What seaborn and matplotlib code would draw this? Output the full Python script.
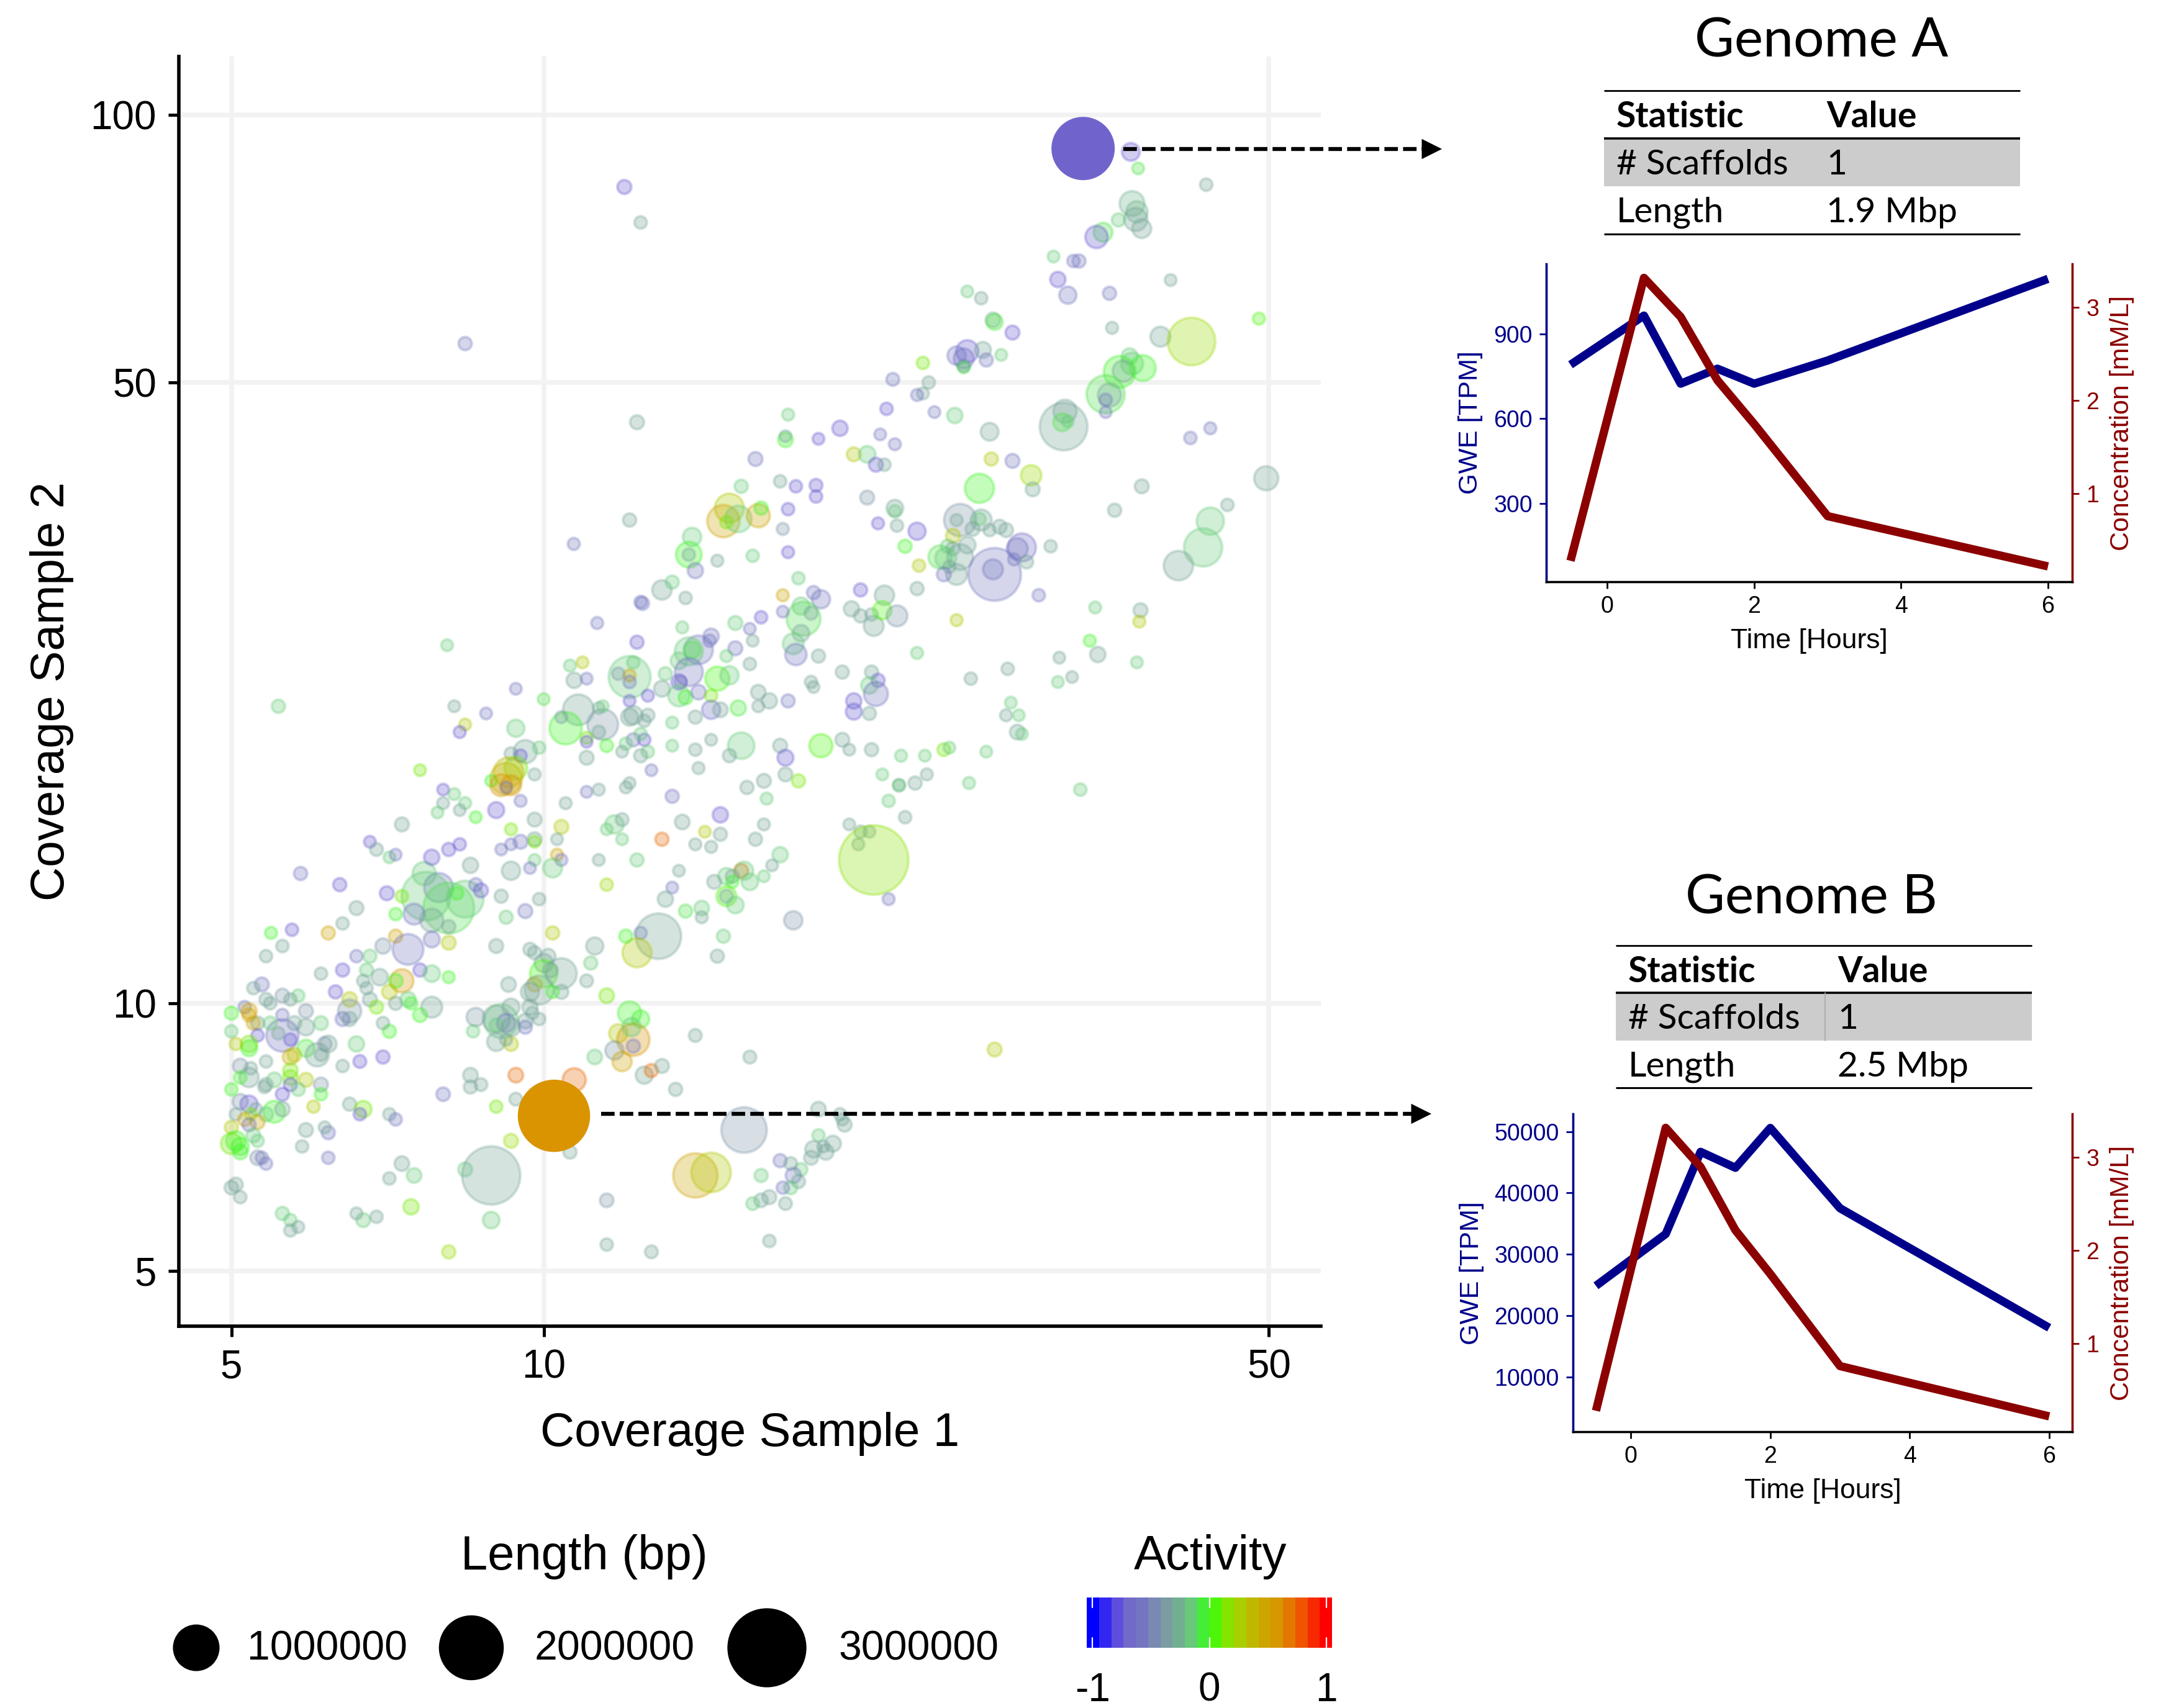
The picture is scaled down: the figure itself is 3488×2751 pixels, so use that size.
import matplotlib
matplotlib.use('Agg')
import matplotlib.pyplot as plt
import numpy as np
import pandas as pd
import seaborn as sns
from matplotlib.colors import LinearSegmentedColormap
from matplotlib.patches import Rectangle

# activity levels
P, S, G, T, M, B, L, Y, U, O = -0.75, -0.55, -0.42, -0.3, -0.15, -0.03, 0.12, 0.3, 0.48, 0.72

cov1 = [
    5.83,6.36,7.06,7.67,7.92,7.7,8.1,8.4,8.25,7.3,
    8.6,8.7,9.1,6.6,7.2,7.5,7.8,8.1,9.2,9.6,
    9.9,5.46,5.72,6.2,6.4,7.2,7.4,7.8,7,8.1,
    9,5.6,5.4,6.6,6.8,10.2,11.5,12.4,12.9,12.3,
    12,11.2,11.1,14.9,14.7,17.4,6.1,6.4,6.75,6.7,
    6.75,6.95,7.3,7.2,7.6,7.8,8.1,5.35,5.25,5.6,
    5.8,5.7,5.4,5.45,6.3,6.5,7.1,6.8,7.2,6.9,
    6.5,6.5,6.4,7.4,7.45,7.8,7.6,5.15,5.2,5.2,
    5,5.9,5.6,5.75,5.9,5.6,6.1,5.55,5.45,5.3,
    5.25,5,5.3,5.7,5.2,5.2,5.05,5.9,6.05,6.2,
    6.15,6.1,6.6,5.7,5.75,6.4,6.65,7,7.1,7,
    5.1,5.2,5.22,5.4,5.1,5.5,5.7,5.7,5.9,6.1,
    5.7,5.8,5.6,5.4,5.38,5,6.1,6,6.5,6.7,
    6.65,7.1,7.2,5.1,5.2,5.5,5.6,5.4,5.05,5.28,
    5.22,5.15,5.3,5,5.2,5.25,5.3,5,5.1,5.05,
    5.1,5.3,5.35,5.4,5.9,6.2,6.15,5.85,6.2,7.3,
    7.5,7.1,8.4,8.9,8.9,7.45,6.7,6.9,6.6,5.6,
    5.7,5.8,5.7,8.1,5.05,5,5.1,11.5,11.5,12.7,
    16.5,9.8,9.7,10.1,10,10,10.4,10.15,9.8,9.9,
    9.7,10.4,10.2,9.25,11,8.6,8.55,9.1,9,9.3,
    9.2,9,9.3,9.7,9.6,9.75,9.9,9.6,9,9.3,
    9.2,11.5,12.1,12.4,11.8,12.2,12.15,11.7,12.2,11.2,
    11.9,12.5,12.7,13,13.4,14,15.8,9.4,10.7,8.5,
    8.7,8.5,8,9.4,9,9.3,10.6,15.6,14,14.5,
    18.4,19.3,19.4,19.5,18.4,18.2,19,18.6,18.7,18.1,
    17.7,16.9,17.3,17.4,17.6,17.3,17,16.2,16.5,16.2,
    15.9,17.1,
    19.9,20.5,16,20.9,21.3,27,28.3,29.5,29.6,26.3,
    42,37.7,49.7,15.5,16.9,17.5,18.3,18.3,17.2,20.5,
    21.8,21.8,15.1,14.9,15.4,16.1,16.2,15,12.1,17,
    21,21.9,22.9,25.2,26.4,26.3,25,25.9,26.9,27.5,
    27.9,24.8,25.6,13.9,13.8,13.8,14,15.9,14.7,17.2,
    22.3,24.1,24.5,24.8,25.2,24.4,23,24.6,25,24.3,
    28.9,28.6,28.4,27.2,27.1,29.2,30.8,30,35.5,45.6,
    43.9,43.2,40.9,17.6,17,13,13.3,12.4,12.45,13.7,
    20.2,21.3,22.9,18.2,18.5,17.7,17.8,18.1,19.8,20.2,
    20.7,20.8,21.2,21.9,25,34,37.6,37.5,17,16.2,
    15.3,13.6,17.7,17.4,17.5,18.4,15.8,15.9,15.3,15,
    12.3,14.5,14.1,14.45,13.9,13.8,13.5,13.8,13.5,13.55,
    12.1,12.2,12.1,12.1,13.1,14.7,15.1,15.8,13,13.5,
    13.7,14.1,14.5,14.5,14.8,15.4,16.1,16.5,16.1,17.2,
    12.6,12.1,20.7,19.4,18.1,18.2,21,22.9,33.6,31.4,
    34.2,37.3,28,25.8,31.3,32.3,20.6,20.9,19.9,19.9,
    20.6,28.2,27.9,28.7,28.6,28.9,12.2,12.1,12.6,12.5,
    13.3,14,12.5,12.2,12.4,12,12.6,12.4,13.3,14,
    14.5,15.5,15.1,16.9,17.1,18.5,19.4,19.7,20.7,22.1,
    23.3,24.3,24.6,26.7,12.7,14.1,17.1,17.6,16.3,15.7,
    12.1,12,16.4,13.3,21.2,23.4,22.8,22,22,25.7,
    32.9,21.5,14.8,13.6,16.3,22.3,19.7,20.2,20.6,20.1,
    20.8,21.5,14.3,13,14.8,14,14.5,16,16.9,12.3,
    16.6,16.3,15.5,15.6,15,15.2,15.8,14.6,13.5,13.3,
    13.1,15.2,15,15,15.3,13.7,14.2,14.2,27.2,
    36.8,37.4,43.5,36.9,37.3,37.2,37.7,35.8,34.6,34.1,
    31,32.4,32.8,31.3,32,35.1,40.2,25.6,26.4,27.1,
    27.2,28.3,35.3,39.3,42.1,48.9,25.6,25,25.4,26.5,
    26.7,27.6,25.4,25.4,36.7,36.9,35.9,36.2,37.8,34.8,
    35.1,34.8,34.8,31.8,31.7,31.6,32,23.8,24.9,26.9,
    43.9,11.96,12.4,8.4,12.3,17.2,17.1,17.1,18.4,19.3,
    21.1,21.8,21.4,21.7,23.2,23.5,23.2,22.9,
    10.69,11.26,8.07,9.4,8.2,8.8,8.4,8.3,9.4,10,
    10.6,10.9,10.7,11,11.8,10.8,11.4,10.5,10.4,11.3,
    11.4,11.3,11,11,11.5,11,11.9,9.6,9.9,9.3,
    9.5,9.4,9.25,9.2,9.8,8.9,9.1,9.3,9.2,7.6,
    8,8.2,9.5,9,8,8.4,8.3,7.9,8.6,7.3,
    9.8,10.4,9.3,10.5,11,11.3,6.8,6.9,7.1,7.2,
    8.1,8.3,7.8,9.1,9.3,9.5,9.8,9.8,10.3,10.3,
    10.4,9.8,9.7,10.2,9.3,8.5,11.9,11.3,11.5,11.7,
    11.9,5.55,
]
cov2 = [
    14,13.6,13.3,14,13.5,13.2,12.8,13.1,13.3,13.2,
    13.6,13.4,13.2,12.8,12.6,12.6,12.4,12.2,12.5,12.7,
    13.1,12,12.1,12,12.3,11.9,11.5,11.8,11.6,11.7,
    11.6,11.6,11.3,11.3,11.3,12,13.6,12,11.9,11.4,
    11.9,11.6,11.1,11.9,11.3,12.4,10.8,10.9,10.9,10.6,
    10.4,10.7,10.6,10.6,10.9,10.8,10.7,10.5,10.4,10.2,
    10.2,10.1,10.1,10,10.3,10.1,10.3,10.1,10,9.9,
    9.8,9.6,9.6,10.1,10,9.9,9.7,9.9,9.8,9.7,
    9.75,9.8,9.7,9.5,9.4,9.2,9.5,9.25,9.5,9.5,
    9.5,9.3,9.2,9.1,9,8.9,9,8.9,8.75,9,
    9,8.75,9,8.7,8.75,8.5,8.6,8.7,9.3,9.5,
    8.5,8.25,8.45,8.6,8.25,8.2,8.4,8.25,8.2,8.1,
    8.1,8,7.9,8.1,8.05,8,7.9,7.65,7.7,7.6,
    7.5,7.5,7.4,7.75,7.7,7.55,7.6,7.5,7.5,7.6,
    7.5,7.4,7.35,7.25,7.3,7.1,7,6.95,6.9,7,
    6.8,6.7,6.7,6.6,7.2,7.15,7.25,6.9,6.7,6.6,
    6.4,6.35,6.5,6.4,5.7,5.9,5.7,5.75,5.8,5.8,
    5.7,5.6,5.55,5.25,6.25,6.2,6.05,6,5.35,5.25,
    5.4,11.4,11.5,11.3,11.1,10.8,10.8,10.9,10.5,10.35,
    10.3,10.3,10.3,10.5,10.6,9.65,9.3,9.55,9.6,9.9,
    9.5,9.45,9.4,9.9,9.55,9.75,9.6,9.4,9.05,9,
    9.1,10.2,9.75,9.6,9.25,9.1,9.4,8.85,8.95,8.7,
    8.6,8.3,8.4,8.5,8,9.2,8.7,8.3,8.2,8.3,
    8.1,8.05,7.9,7.8,7.65,7,6.8,7.2,6.4,6.45,
    7.6,7.5,7.4,7.3,7.1,6.85,6.95,6.9,6.8,6.7,
    6.5,6.65,6.6,6.4,6.3,6.2,6.2,6.4,6.05,6,
    5.95,5.95,
    41.5,41.5,41,40.4,40.4,41,40.8,39.3,37.9,38,
    43.3,38.2,39,38.2,38.7,38.2,38.3,37.2,36,37.1,
    36.1,35.8,36.1,34.9,35.1,35.4,36.1,34.8,35,34.2,
    34.7,34.5,34,35,35,35.1,35,34.2,34.1,34.4,
    34.1,33.6,32.8,33.5,32,32,30.7,31.9,31.5,32.2,
    32.7,31.8,32.7,32.5,31.8,31.7,31.1,31,30.4,30.4,
    32.6,32.5,31.6,30.4,30.8,31.4,32.7,28.8,35.9,36.4,
    34.9,32.6,31.1,30.1,28.8,29.2,29.8,28.3,28.2,28.6,
    29.2,28.8,29.3,29,28.5,28,27.1,27.5,27.8,27.3,
    27.4,26.6,27.7,27.3,27,27.9,27.7,26.9,27.6,27.2,
    26.8,26.5,26.1,25.4,24.7,24.6,26.4,25.6,25.1,24.6,
    25.5,25.9,25,25.6,25,24.9,24.3,23.6,23,23,
    23.3,24.2,23.4,23,23.5,23.2,23.4,24.1,22.6,22.2,
    22.1,22.4,22.2,21.4,21.4,21.5,22.4,21.9,21.6,21.9,
    22.2,21.9,23.6,23.6,23,22.7,23.1,24.8,25.6,24.5,
    24.7,24.2,23.8,23.2,23,23.3,22.8,22.3,21.9,21.3,
    21.2,21.8,21.1,21.1,20.2,20.1,21.1,21,21.1,20.8,
    20.7,21,19.8,19.8,20.1,19.6,19.2,19,19.5,19.3,
    19.8,19.5,19,19.5,18.9,19.5,19.8,19.3,19.3,19,
    19,19.3,19.4,19.2,18.3,18.4,18.1,17.8,17.8,17.5,
    17.7,17.5,17,17.1,18.1,18.1,17.7,17.6,17.6,17.7,
    17.4,16.9,16.3,16,15.9,16.2,15.9,15.6,15.6,15.1,
    14.5,13.1,15.6,15.3,15.5,15.1,15,15.3,14.7,14.5,
    14.3,13.9,14.1,14.1,13.9,13.9,13.7,13.7,14.1,13.5,
    13.1,13.7,13.2,13.2,12.9,12.7,12.8,12.5,8.87,
    90.9,87.1,83.5,79.5,77.8,76.3,74.5,76.2,73.8,72.9,
    69.3,68.5,68.5,65.3,62.7,63,65.2,63.3,62.2,58.8,
    58.5,56.9,57.6,56.3,55.6,59,54.2,53.6,53.2,54.4,
    53,53.7,52.2,52,53.5,52.5,51.4,51.5,51.9,48.5,
    48.4,47.8,46.3,46.4,44.6,45.1,45.2,46.3,45.9,44,
    44.4,83,75.7,55.3,45.1,46,43.1,43.5,43.2,44.4,
    43.7,42.6,46.7,50.4,52.6,50,48.6,48.4,
    32.9,26.8,25.3,22.6,21.6,21.2,20.6,20.2,20.4,22,
    24,24.2,23.1,23.2,23.5,21.4,20.6,20.4,21,21.5,
    21.6,20.2,19.9,19.7,19.5,18.9,19.2,19.2,19.4,19.1,
    19,18.4,18.2,17.9,18.1,17.8,17.6,17.6,17.5,18.3,
    17.4,17.2,16.9,16.5,16.8,16.8,16.5,16.4,16.2,15.9,
    16.1,15.8,15.7,16.8,17.3,17.4,15.2,14.9,14.6,14.7,
    14.9,15.1,14.6,14.9,15.1,15.2,15.3,15.2,15.3,14.7,
    14.5,14.5,14.2,14.2,14.1,14.3,15.3,14.5,15.7,15.9,
    16.1,21.6,
]
# genome length in Mbp
length_mb = [
    .02,.02,.03,.2,.35,1.1,1.2,.6,.01,.01,
    .02,.03,.02,.03,.01,.15,.2,.02,.02,.03,
    .01,.005,.01,.02,.01,.02,.4,.06,.05,.03,
    .03,.01,.01,.01,.02,.02,.01,.01,.95,.35,
    .02,.08,.02,.02,.02,.1,.01,.02,.02,.01,
    .01,.07,.2,.03,.02,.07,.005,.03,.01,.03,
    .01,.01,.02,.01,.02,.04,.04,.03,.02,.02,
    .2,.03,.03,.05,.01,.15,.03,.01,.05,.02,
    .02,.03,.01,.03,.07,.45,.03,.01,.02,.02,
    .02,.01,.01,.01,.07,.06,.01,.08,.2,.07,
    .03,.01,.05,.05,.03,.01,.015,.02,.02,.01,
    .04,.12,.01,.01,.01,.04,.04,.04,.03,.03,
    .02,.02,.02,.02,.01,.01,.01,.01,.02,.07,
    .01,.01,.01,.05,.08,.17,.04,.03,.01,.01,
    .005,.02,.03,.02,.02,.03,.01,.15,.08,.12,
    .04,.04,.01,.01,.03,.02,.005,.01,.01,.04,
    .04,.01,.03,1.6,.07,.05,.03,.01,.005,.02,
    .01,.005,.01,.02,.03,.025,.01,.025,.01,.015,
    .01,.02,.02,.04,.1,.3,.4,.04,.03,.35,
    .1,.03,.01,.04,.015,.1,.01,.5,.3,.08,
    .1,.02,.1,.05,.04,.01,.01,.02,.1,.03,
    .005,.04,.2,.08,.1,.45,.1,.1,.02,.04,
    .12,.08,.02,.03,.02,.015,.015,.04,.2,.04,
    .015,.02,.025,.015,.01,.03,.02,.95,.9,.7,
    .04,.01,.005,.03,.01,.07,.06,.005,.05,.03,
    .015,.02,.015,.05,.02,.02,.01,.02,.03,.025,
    .015,.015,
    .03,.07,.03,.03,.01,.02,.03,.14,.03,.35,
    .01,.03,.22,.02,.01,.01,.015,.01,.01,.03,
    .07,.01,.35,.45,.28,.2,.02,.01,.02,.005,
    .005,.01,.08,.45,.15,.01,.005,.03,.01,.03,
    .03,.03,.07,.1,.26,.01,.05,.01,.005,.005,
    .02,.2,.02,.02,.26,.15,.01,.01,.15,.03,
    .32,.15,.005,1.3,.13,.02,.01,.01,.02,.01,
    .3,.65,.36,.01,.005,.12,.02,.01,.02,.01,
    .02,.12,.02,.02,.1,.08,.5,.02,.05,.02,
    .01,.13,.1,.15,.005,.003,.03,.005,.002,.01,
    .03,.005,.07,.15,.16,.02,.002,.002,.03,.005,
    .02,.05,.34,.01,.07,.32,.07,.32,.05,.01,
    .8,.01,.005,.01,.02,.22,.1,.01,.06,.16,
    .03,.04,.01,.1,.04,.05,.04,.05,.005,.02,
    .005,.002,.02,.02,.01,.002,.02,.005,.005,.002,
    .05,.002,.01,.01,.002,.002,.07,.22,.05,.06,
    .02,.002,.005,.002,.04,.002,.1,.08,.02,.01,
    .005,.02,.01,.02,.01,.01,.01,.02,.002,.01,
    .002,.28,.02,.03,.06,.2,.03,.002,.02,.005,
    .002,.015,.002,.002,.002,.005,.03,.02,.03,.02,
    .002,.005,.005,.02,.002,.005,.02,.01,.002,.005,
    .01,.01,.05,.04,.005,.01,.002,.01,.002,.005,
    2.3,.005,.002,.02,.02,.005,.005,.02,.05,.02,
    .002,.002,.03,.1,.07,.02,.07,.03,.002,.002,
    .05,.005,.13,.02,.07,.02,.04,.005,.03,
    .09,.002,.01,.24,.16,.2,.11,.02,.11,.18,
    .002,.01,.02,.05,.08,.02,.002,.002,.01,.04,
    .06,.03,.005,.13,1.05,.005,.18,.1,.13,.06,
    .02,.002,.01,.005,.06,.17,.43,.16,.26,.65,
    .2,.01,.002,.2,1.05,.09,.002,.002,.05,.09,
    .005,.03,.01,.02,.03,.005,.04,.002,.002,.05,
    .002,.005,.01,.015,.01,.01,.005,.005,
    .005,.005,.002,.002,.002,.002,.002,.005,.08,.002,
    .005,.002,.05,.002,.01,.4,.4,.45,.005,.002,
    .002,.015,.005,.002,.015,.03,.002,.2,.01,.015,
    .01,.19,.37,.43,.005,.002,.17,.13,.002,.002,
    .002,.002,.005,.06,.005,.005,.002,.002,.002,.03,
    .03,.03,.005,.005,.002,.005,.002,.015,.002,.002,
    .02,.01,.05,.002,.002,.03,.03,.002,.002,.005,
    .005,.002,.002,.11,.1,.05,.002,.002,.002,.1,
    .015,.02,
]
activity = [
    S,P,P,M,S,M,-.1,M,B,L,
    S,P,T,T,B,S,T,T,M,S,
    T,B,P,U,T,U,S,S,G,Y,
    T,T,T,S,M,Y,.22,S,T,Y,
    B,T,M,M,T,G,T,P,M,T,
    T,T,.55,B,P,M,B,S,T,G,
    M,T,T,T,P,Y,Y,T,T,L,
    G,T,S,M,B,T,B,S,U,U,
    B,G,S,T,T,S,M,T,M,T,
    U,M,P,P,L,B,Y,-.06,T,T,
    G,T,M,U,Y,T,P,P,B,T,
    G,T,T,T,B,M,L,L,Y,G,
    P,M,P,T,T,B,B,Y,T,L,
    P,T,S,G,P,B,T,M,T,T,
    L,U,U,Y,S,M,M,L,B,B,
    B,G,S,S,T,S,T,T,S,T,
    M,T,M,T,M,L,M,T,T,M,
    M,T,T,.2,T,T,T,G,T,T,
    T,T,T,T,T,.03,T,T,U,T,
    T,T,B,T,T,G,M,M,T,T,
    S,M,T,T,T,T,T,S,T,Y,
    T,L,B,B,Y,.6,M,G,S,M,
    U,T,O,T,T,T,T,O,O,T,
    T,T,S,T,L,.2,T,G,U,Y,
    T,T,T,T,M,T,T,T,T,T,
    M,S,T,S,T,M,S,M,T,T,
    M,T,
    Y,M,S,P,T,Y,S,.2,T,B,
    S,T,T,M,T,P,P,P,P,G,
    T,M,Y,U,M,U,B,L,T,G,
    P,T,P,G,T,M,T,T,T,T,
    T,Y,T,M,B,T,S,M,T,P,
    B,-.08,M,T,T,M,Y,T,T,S,
    -.62,S,S,S,S,T,T,S,T,T,
    M,M,T,M,U,T,M,S,S,T,
    P,T,T,S,S,M,-.1,T,T,T,
    T,T,.05,G,Y,M,T,Y,S,P,
    M,M,T,M,S,T,S,T,S,M,
    P,S,S,S,B,M,M,S,P,S,
    M,M,U,S,M,.03,M,T,T,M,
    B,S,L,-.62,T,-.06,T,T,T,S,
    P,P,T,T,T,T,P,M,B,T,
    T,M,T,T,M,T,M,S,P,P,
    T,M,T,M,T,M,T,T,T,T,
    M,T,P,S,M,M,M,T,M,T,
    T,M,T,T,P,.05,T,T,T,M,
    M,L,M,M,S,T,T,L,T,T,
    T,T,M,S,M,T,T,T,M,M,
    M,M,P,T,T,T,T,T,T,T,
    .17,S,Y,O,T,T,T,T,M,M,
    T,M,O,M,M,T,M,T,T,S,
    T,B,.05,T,M,-.08,M,T,Y,
    P,-.08,T,-.25,-.25,T,T,M,-.08,P,
    M,S,S,P,S,S,T,M,T,T,
    -.06,P,T,T,.2,.05,P,S,-.62,T,
    S,M,S,-.06,M,M,B,T,B,-.08,
    T,S,S,T,T,-.08,M,S,M,T,
    S,P,T,S,T,M,B,T,P,P,
    S,S,P,S,L,T,T,S,
    S,S,M,S,T,S,Y,P,M,-.08,
    M,Y,T,S,G,T,G,B,G,T,
    M,T,L,P,B,T,T,T,M,T,
    P,L,.38,.38,T,B,.58,.6,S,L,
    P,M,S,P,T,M,T,M,B,T,
    T,Y,L,T,S,T,P,T,M,S,
    P,P,P,S,S,S,T,L,T,U,
    S,M,S,M,T,T,M,T,M,M,
    T,M,
]

# the two genomes picked out with arrows
genome_cov1 = [33.1, 10.23]
genome_cov2 = [91.7, 7.47]
genome_length_mb = [1.9, 2.5]
genome_activity = [-0.72, 0.6]

# right hand panels
hours = [-0.5, 0.5, 1, 1.5, 2, 3, 6]
gwe_a = [791, 965, 724, 777, 724, 806, 1095]
gwe_b = [24850, 33300, 46700, 44100, 50600, 37500, 18000]
concentration = [0.28, 3.32, 2.9, 2.22, 1.75, 0.76, 0.22]

x_ticks = [5, 10, 50]
y_ticks = [5, 10, 50, 100]
legend_lengths = [1, 2, 3]
legend_labels = ['1000000', '2000000', '3000000']

W, H = 3488, 2751
DARKBLUE = '#00008b'
DARKRED = '#8b0000'
SIZES = (45, 2100)
SIZE_NORM = (0, 3)

sns.set_theme(style='ticks')
plt.rcParams['font.family'] = ['Liberation Sans', 'DejaVu Sans']
plt.rcParams['text.color'] = 'black'

activity_cmap = LinearSegmentedColormap.from_list('activity', [
    (0.0, '#0000ff'), (0.075, '#4a3aea'), (0.14, '#7266cb'), (0.225, '#7478c0'),
    (0.29, '#7c96a8'), (0.35, '#76a598'), (0.425, '#66cc77'), (0.475, '#44ee33'),
    (0.5, '#33ff11'), (0.55, '#66ee00'), (0.6, '#99dd00'), (0.675, '#bcbc00'),
    (0.75, '#d0a000'), (0.8, '#d99400'), (0.9, '#f05000'), (1.0, '#ff0000'),
])


def px_axes(fig, left, top, right, bottom):
    return fig.add_axes([left / W, 1 - bottom / H, (right - left) / W, (bottom - top) / H])


fig = plt.figure(figsize=(W / 200, H / 200), dpi=200)

# main bubble chart
ax = px_axes(fig, 288, 91, 2127, 2136)
df = pd.DataFrame({'cov1': cov1, 'cov2': cov2, 'length': length_mb, 'activity': activity})
ax.set_xscale('log')
ax.set_yscale('log')
sns.scatterplot(data=df, x='cov1', y='cov2', hue='activity', size='length', palette=activity_cmap,
                hue_norm=(-1, 1), sizes=SIZES, size_norm=SIZE_NORM, alpha=0.3, edgecolor='face',
                linewidth=1.6, legend=False, ax=ax, zorder=3)
sns.scatterplot(x=genome_cov1, y=genome_cov2, hue=genome_activity, size=genome_length_mb, palette=activity_cmap,
                hue_norm=(-1, 1), sizes=SIZES, size_norm=SIZE_NORM, linewidth=0, legend=False, ax=ax, zorder=4)
ax.set_xlim(4.45, 56.1)
ax.set_ylim(4.33, 116.4)
ax.set_xticks(x_ticks)
ax.set_xticklabels([str(t) for t in x_ticks])
ax.set_yticks(y_ticks)
ax.set_yticklabels([str(t) for t in y_ticks])
ax.minorticks_off()
ax.grid(True, color='#f2f2f2', linewidth=2.7, zorder=0)
ax.set_axisbelow(True)
ax.tick_params(length=6, width=1.8, labelsize=23, color='black', labelcolor='black', pad=7)
ax.set_xlabel('Coverage Sample 1', fontsize=27.5, labelpad=15, color='black')
ax.set_ylabel('Coverage Sample 2', fontsize=27.5, labelpad=9.5, color='black')
sns.despine(ax=ax)
ax.spines['left'].set_linewidth(2)
ax.spines['bottom'].set_linewidth(2)
ax.spines['left'].set_color('black')
ax.spines['bottom'].set_color('black')


def panel(left, top, right, bottom, gwe, gwe_lim, gwe_ticks):
    a = px_axes(fig, left, top, right, bottom)
    sns.lineplot(x=hours, y=gwe, color=DARKBLUE, linewidth=4.8, ax=a, solid_capstyle='butt', zorder=3)
    a.set_xlim(-0.83, 6.33)
    a.set_ylim(*gwe_lim)
    a.set_xticks([0, 2, 4, 6])
    a.set_yticks(gwe_ticks)
    a.set_xlabel('Time [Hours]', fontsize=16, color='black', labelpad=6)
    a.set_ylabel('GWE [TPM]', fontsize=15.6, color=DARKBLUE, labelpad=6)
    a.tick_params(axis='x', length=4, width=1, labelsize=13.5, labelcolor='black', color='black', pad=4)
    a.tick_params(axis='y', length=4, width=1, labelsize=13.5, labelcolor=DARKBLUE, color=DARKBLUE, pad=4)
    b = a.twinx()
    sns.lineplot(x=hours, y=concentration, color=DARKRED, linewidth=4.8, ax=b, solid_capstyle='butt', zorder=3)
    b.set_ylim(0.055, 3.47)
    b.set_yticks([1, 2, 3])
    b.set_ylabel('Concentration [mM/L]', fontsize=15.5, color=DARKRED, labelpad=6)
    b.tick_params(axis='y', length=4, width=1, labelsize=13.5, labelcolor=DARKRED, color=DARKRED, pad=4)
    for x in (a, b):
        x.spines['top'].set_visible(False)
        x.patch.set_alpha(0)
        x.spines['left'].set_color(DARKBLUE)
        x.spines['left'].set_linewidth(1.2)
        x.spines['right'].set_color(DARKRED)
        x.spines['right'].set_linewidth(1.2)
        x.spines['bottom'].set_color('black')
        x.spines['bottom'].set_linewidth(1.2)


panel(2490, 425, 3337, 937, gwe_a, (23, 1148), [300, 600, 900])
panel(2533, 1794, 3337, 2306, gwe_b, (1050, 52900), [10000, 20000, 30000, 40000, 50000])

# everything placed by hand goes on a pixel overlay
ov = fig.add_axes([0, 0, 1, 1], zorder=10)
ov.set_xlim(0, W)
ov.set_ylim(H, 0)
ov.axis('off')
ov.patch.set_alpha(0)


def table(x0, x1, ys, title, title_x, title_y, text_x, value_x, rows, divider=None):
    ov.text(title_x, title_y, title, fontsize=31.5, family='Lato', ha='center', va='center')
    ov.add_patch(Rectangle((x0, ys[1]), x1 - x0, ys[2] - ys[1], facecolor='#cccccc', edgecolor='none'))
    for y, lw in zip((ys[0], ys[1], ys[3]), (1, 1.3, 1.1)):
        ov.plot([x0, x1], [y, y], color='black', lw=lw, solid_capstyle='butt')
    if divider:
        ov.plot([divider, divider], [ys[1], ys[2]], color='#a8a8a8', lw=0.6)
    for i, (a, b) in enumerate(rows):
        yc = (ys[i] + ys[i + 1]) / 2 + 4
        weight = 'bold' if i == 0 else 'normal'
        ov.text(text_x, yc, a, fontsize=20.5, family='Lato', weight=weight, ha='left', va='center')
        ov.text(value_x, yc, b, fontsize=20.5, family='Lato', weight=weight, ha='left', va='center')


table(2583, 3253, (146, 223, 300, 377), 'Genome A', 2933, 67, 2603, 2941,
      [('Statistic', 'Value'), ('# Scaffolds', '1'), ('Length', '1.9 Mbp')])
table(2602, 3272, (1523, 1599, 1676, 1752), 'Genome B', 2917, 1447, 2622, 2959,
      [('Statistic', 'Value'), ('# Scaffolds', '1'), ('Length', '2.5 Mbp')], divider=2939)

# arrows from the picked genomes
for x0, x1, y in ((1809, 2322, 240), (968, 2305, 1794)):
    ov.plot([x0, x1 - 22], [y, y], color='black', lw=2.3, linestyle=(0, (3.4, 1.3)), solid_capstyle='butt')
    ov.annotate('', xy=(x1, y), xytext=(x1 - 30, y),
                arrowprops=dict(arrowstyle='-|>,head_length=0.9,head_width=0.45', color='black', lw=0,
                                shrinkA=0, shrinkB=0, mutation_scale=13))

# size legend
ov.text(941, 2507, 'Length (bp)', fontsize=28, ha='center', va='center')
legend_x = [316, 759, 1235]
label_x = [398, 861, 1350]
sizes = [SIZES[0] + (SIZES[1] - SIZES[0]) * (v - SIZE_NORM[0]) / (SIZE_NORM[1] - SIZE_NORM[0]) for v in legend_lengths]
ov.scatter(legend_x, [2654] * 3, s=sizes, color='black', linewidths=0)
for lx, lab in zip(label_x, legend_labels):
    ov.text(lx, 2656, lab, fontsize=23.8, ha='left', va='center')

# activity colour bar, 20 bins
ov.text(1949, 2507, 'Activity', fontsize=28, ha='center', va='center')
cax = px_axes(fig, 1750, 2573, 2145, 2654)
edges = np.linspace(-1.05, 1.05, 21)
centres = (edges[:-1] + edges[1:]) / 2
cax.pcolormesh(edges, [0, 1], centres[None, :], cmap=activity_cmap, vmin=-1, vmax=1)
for t in (-1, 0, 1):
    cax.plot([t, t], [0, 0.2], color='white', lw=0.8)
    cax.plot([t, t], [0.8, 1], color='white', lw=0.8)
cax.set_xlim(-1.05, 1.05)
cax.set_ylim(0, 1)
cax.set_yticks([])
cax.set_xticks([-1, 0, 1])
cax.set_xticklabels(['-1', '0', '1'])
cax.tick_params(axis='x', length=0, labelsize=23, pad=14, labelcolor='black')
for s in cax.spines.values():
    s.set_visible(False)

fig.savefig('out.png', dpi=200, facecolor='white')
plt.close('all')
